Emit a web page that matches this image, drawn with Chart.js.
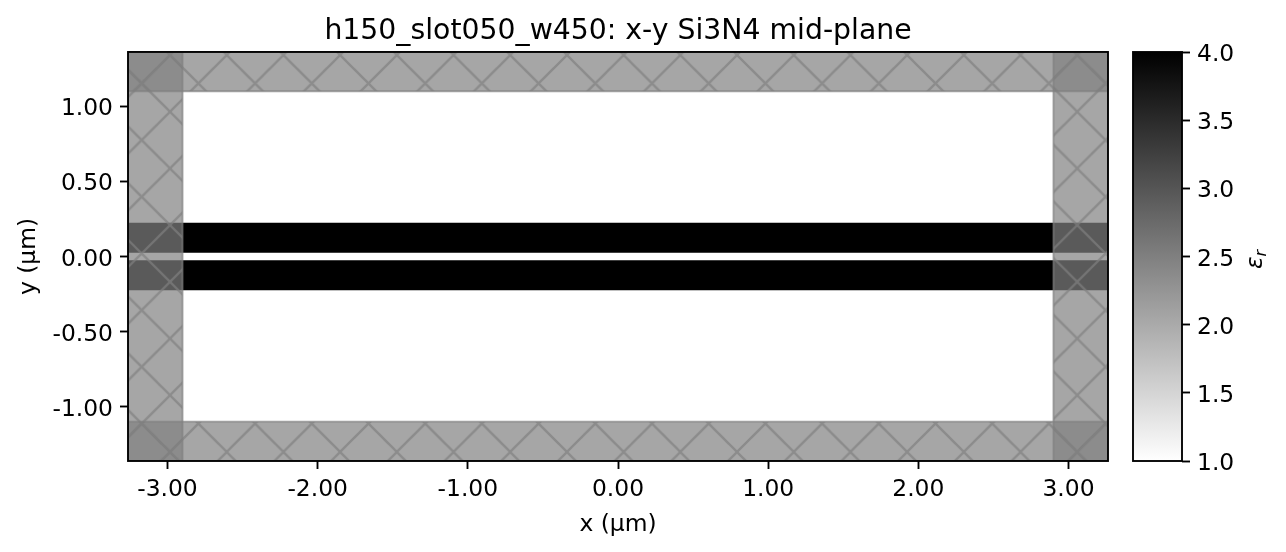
<!DOCTYPE html>
<html>
<head>
<meta charset="utf-8">
<script src="https://cdn.jsdelivr.net/npm/chart.js@4"></script>
<style>
html, body { margin: 0; padding: 0; background: #fff; width: 1286px; height: 552px; overflow: hidden; }
#mainWrap { position: absolute; left: 0; top: 0; width: 1110px; height: 552px; }
#barWrap { position: absolute; left: 1110px; top: 0; width: 176px; height: 552px; }
</style>
</head>
<body>
<div id="mainWrap"><canvas id="main"></canvas></div>
<div id="barWrap"><canvas id="bar"></canvas></div>
<script>
// tick labels
const xTicks = [-3, -2, -1, 0, 1, 2, 3];
const yTicks = [-1, -0.5, 0, 0.5, 1];
const barTicks = [1, 1.5, 2, 2.5, 3, 3.5, 4];

// limits of the simulation cell (um)
const xLimits = [-3.263, 3.263];
const yLimits = [-1.362, 1.362];

// rectangles as [x0, x1, y0, y1]
const coreTop = [-3.263, 3.263, 0.025, 0.225];
const coreBottom = [-3.263, 3.263, -0.225, -0.025];
const pmlLeft = [-3.263, -2.9, -1.362, 1.362];
const pmlRight = [2.9, 3.263, -1.362, 1.362];
const pmlTop = [-3.263, 3.263, 1.1, 1.362];
const pmlBottom = [-3.263, 3.263, -1.362, -1.1];

// colorbar range
const barRange = [1, 4];

const FONT = '"DejaVu Sans"';
const GREY = 'rgba(128,128,128,0.7)';
const LW = 1.87;
const TICK_SIZE = 23.4;

Chart.defaults.animation = false;
Chart.defaults.font.family = FONT;
Chart.defaults.color = '#000';

function rect(r) {
    return [
        { x: r[0], y: r[2] }, { x: r[1], y: r[2] },
        { x: r[1], y: r[3] }, { x: r[0], y: r[3] }, { x: r[0], y: r[2] }
    ];
}

// grey fill with the x hatch on it
function hatchPattern() {
    const T = 57;
    const c = document.createElement('canvas');
    c.width = T;
    c.height = T;
    const g = c.getContext('2d');
    g.fillStyle = GREY;
    g.fillRect(0, 0, T, T);
    g.strokeStyle = GREY;
    g.lineWidth = 2.3;
    g.beginPath();
    for (let k = -1; k <= 1; k++) {
        g.moveTo(k * T - 2, -2);
        g.lineTo(k * T + T + 2, T + 2);
        g.moveTo(k * T + T + 2, -2);
        g.lineTo(k * T - 2, T + 2);
    }
    g.stroke();
    const p = g.createPattern(c, 'repeat');
    const s = 56.7 / T;
    p.setTransform(new DOMMatrix([s, 0, 0, s, 170, 55]));
    return p;
}

const frame = {
    id: 'frame',
    afterDatasetsDraw(chart) {
        const a = chart.chartArea;
        const ctx = chart.ctx;
        ctx.save();
        ctx.strokeStyle = '#000';
        ctx.lineWidth = LW;
        ctx.strokeRect(a.left, a.top, a.right - a.left, a.bottom - a.top);
        ctx.restore();
    }
};

// colorbar label, epsilon with subscript r, reading upwards
const epsLabel = {
    id: 'epsLabel',
    afterDraw(chart) {
        const ctx = chart.ctx;
        const left = 1262 - 1110;
        ctx.save();
        ctx.fillStyle = '#000';
        ctx.textBaseline = 'alphabetic';
        ctx.translate(left, 269);
        ctx.rotate(-Math.PI / 2);
        ctx.font = 'italic 23.3px ' + FONT;
        ctx.fillText('ε', 0, 0);
        const w = ctx.measureText('ε').width;
        ctx.font = 'italic 16.3px ' + FONT;
        ctx.fillText('r', w, 4);
        ctx.restore();
    }
};

const hatch = hatchPattern();

function coreSet(r) {
    return { data: rect(r), showLine: true, fill: 'shape', tension: 0, pointRadius: 0, borderWidth: 0, backgroundColor: '#000', borderColor: '#000', order: 5 };
}
function pmlSet(r, order) {
    return { data: rect(r), showLine: true, fill: 'shape', tension: 0, pointRadius: 0, borderWidth: LW, backgroundColor: hatch, borderColor: GREY, order: order };
}

new Chart(document.getElementById('main'), {
    type: 'scatter',
    data: {
        datasets: [
            coreSet(coreTop),
            coreSet(coreBottom),
            pmlSet(pmlLeft, 4),
            pmlSet(pmlRight, 3),
            pmlSet(pmlTop, 2),
            pmlSet(pmlBottom, 1)
        ]
    },
    options: {
        responsive: true,
        maintainAspectRatio: false,
        layout: { padding: { left: 0, right: 2, top: 0, bottom: 0 } },
        plugins: {
            legend: { display: false },
            tooltip: { enabled: false },
            title: {
                display: true,
                text: 'h150_slot050_w450: x-y Si3N4 mid-plane',
                fullSize: false,
                font: { size: 28.3, weight: 'normal' },
                padding: { top: 15, bottom: 3 }
            }
        },
        scales: {
            x: {
                type: 'linear',
                min: xLimits[0],
                max: xLimits[1],
                afterBuildTicks: s => { s.ticks = xTicks.map(v => ({ value: v })); },
                afterFit: s => { s.height = 91; },
                border: { display: false },
                grid: { drawOnChartArea: false, tickLength: 8, tickWidth: LW, tickColor: '#000' },
                ticks: { callback: v => v.toFixed(2), font: { size: TICK_SIZE }, maxRotation: 0, autoSkip: false, padding: 7 },
                title: { display: true, text: 'x (µm)', font: { size: TICK_SIZE }, padding: { top: 0, bottom: 13 } }
            },
            y: {
                type: 'linear',
                min: yLimits[0],
                max: yLimits[1],
                afterBuildTicks: s => { s.ticks = yTicks.map(v => ({ value: v })); },
                afterFit: s => { s.width = 128; },
                border: { display: false },
                grid: { drawOnChartArea: false, tickLength: 8, tickWidth: LW, tickColor: '#000' },
                ticks: { callback: v => v.toFixed(2), font: { size: TICK_SIZE }, autoSkip: false, padding: 7, labelOffset: 3 },
                title: { display: true, text: 'y (µm)', font: { size: TICK_SIZE }, padding: { top: 15, bottom: 0 } }
            }
        }
    },
    plugins: [frame]
});

new Chart(document.getElementById('bar'), {
    type: 'bar',
    data: {
        labels: ['eps'],
        datasets: [{
            data: [barRange],
            barPercentage: 1,
            categoryPercentage: 1,
            borderWidth: 0,
            backgroundColor: ctx => {
                const chart = ctx.chart;
                if (!chart.chartArea) return '#888';
                const y = chart.scales.y;
                const grad = chart.ctx.createLinearGradient(0, y.getPixelForValue(barRange[0]), 0, y.getPixelForValue(barRange[1]));
                grad.addColorStop(0, '#fff');
                grad.addColorStop(1, '#000');
                return grad;
            }
        }]
    },
    options: {
        responsive: true,
        maintainAspectRatio: false,
        layout: { padding: { left: 23, right: 0, top: 52, bottom: 91 } },
        plugins: { legend: { display: false }, tooltip: { enabled: false } },
        scales: {
            x: { display: false },
            y: {
                position: 'right',
                min: barRange[0],
                max: barRange[1],
                afterBuildTicks: s => { s.ticks = barTicks.map(v => ({ value: v })); },
                afterFit: s => { s.width = 104; },
                border: { display: false },
                grid: { drawOnChartArea: false, tickLength: 8, tickWidth: LW, tickColor: '#000' },
                ticks: { callback: v => v.toFixed(1), font: { size: TICK_SIZE }, padding: 7, labelOffset: 3 }
            }
        }
    },
    plugins: [frame, epsLabel]
});
</script>
</body>
</html>
